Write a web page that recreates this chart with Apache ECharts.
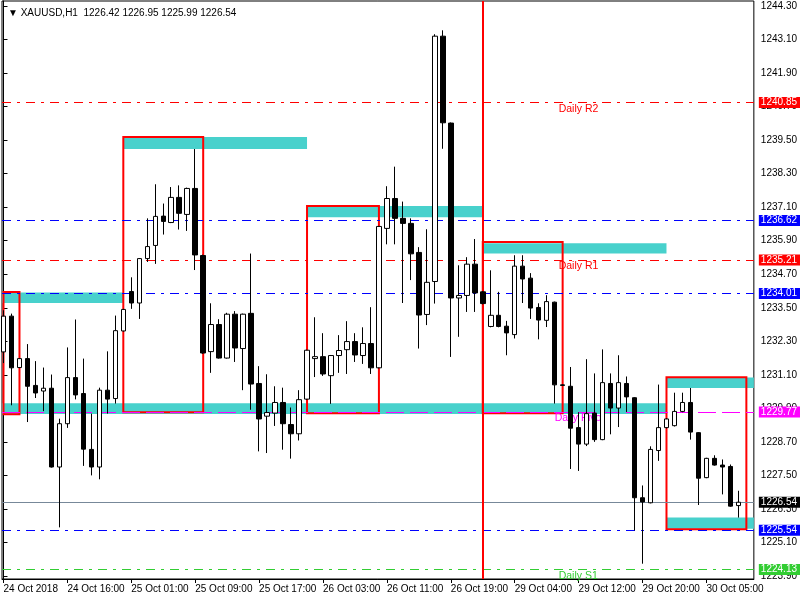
<!DOCTYPE html>
<html>
<head>
<meta charset="utf-8">
<title>XAUUSD,H1</title>
<script src="https://cdn.jsdelivr.net/npm/echarts@6/dist/echarts.min.js"></script>
<style>
  html, body { margin: 0; padding: 0; background: #fff; }
  #chart { width: 800px; height: 600px; }
</style>
</head>
<body>
<div id="chart"></div>
<script>
// hourly bars, [open, high, low, close]
const candles = [
  [1231.92, 1233.41, 1231.52, 1233.20], [1233.20, 1233.29, 1230.01, 1231.35], [1231.36, 1231.70, 1231.34, 1231.68],
  [1231.68, 1232.20, 1229.41, 1230.69], [1230.72, 1231.59, 1230.27, 1230.45], [1230.52, 1231.36, 1229.80, 1230.62],
  [1230.62, 1231.11, 1227.78, 1227.80], [1227.80, 1229.53, 1225.64, 1229.35], [1229.35, 1232.08, 1229.20, 1231.00],
  [1231.00, 1233.08, 1230.22, 1230.38], [1230.43, 1231.68, 1227.84, 1228.44], [1228.43, 1229.71, 1227.50, 1227.80],
  [1227.80, 1230.64, 1227.36, 1230.55], [1230.55, 1231.94, 1229.71, 1230.23], [1230.25, 1233.22, 1230.07, 1232.68],
  [1232.67, 1233.46, 1232.65, 1233.44], [1234.08, 1234.59, 1233.46, 1233.67], [1233.67, 1235.28, 1233.10, 1235.26],
  [1235.26, 1236.70, 1235.14, 1235.69], [1235.73, 1237.92, 1235.07, 1236.77], [1236.78, 1237.23, 1236.12, 1236.59],
  [1236.55, 1237.82, 1236.53, 1237.45], [1237.45, 1237.88, 1236.30, 1236.88], [1236.84, 1237.80, 1236.25, 1237.77],
  [1237.77, 1239.18, 1234.85, 1235.39], [1235.37, 1235.40, 1231.85, 1231.88], [1231.93, 1233.66, 1231.17, 1232.90],
  [1232.90, 1233.09, 1231.68, 1231.70], [1231.70, 1233.32, 1231.68, 1233.27], [1233.27, 1233.38, 1231.56, 1232.06],
  [1232.04, 1233.29, 1230.55, 1233.27], [1233.30, 1235.44, 1229.85, 1230.77], [1230.79, 1231.41, 1228.36, 1229.52],
  [1229.62, 1231.12, 1228.30, 1229.75], [1229.73, 1230.69, 1229.27, 1230.11], [1230.11, 1230.64, 1228.42, 1229.35],
  [1229.32, 1229.93, 1228.10, 1228.99], [1228.99, 1230.55, 1228.75, 1230.21], [1230.23, 1232.00, 1230.20, 1231.98],
  [1231.68, 1233.16, 1231.02, 1231.75], [1231.75, 1232.59, 1231.06, 1231.13], [1231.07, 1231.81, 1230.06, 1231.79],
  [1231.79, 1232.52, 1231.17, 1231.97], [1232.00, 1233.02, 1231.13, 1232.29], [1232.29, 1232.59, 1231.56, 1231.81],
  [1231.79, 1232.80, 1231.49, 1232.22], [1232.22, 1233.52, 1231.13, 1231.35], [1231.35, 1236.43, 1231.33, 1236.41],
  [1236.34, 1237.85, 1235.77, 1237.41], [1237.41, 1238.55, 1235.77, 1236.70], [1236.70, 1237.30, 1233.67, 1236.52],
  [1236.52, 1236.70, 1234.49, 1235.43], [1235.48, 1235.67, 1232.04, 1233.24], [1233.26, 1236.31, 1232.88, 1234.41],
  [1234.44, 1243.29, 1233.65, 1243.22], [1243.22, 1243.43, 1239.19, 1240.12], [1240.11, 1240.13, 1231.74, 1233.85],
  [1233.85, 1235.02, 1232.46, 1233.94], [1233.94, 1235.31, 1233.35, 1235.06], [1235.06, 1235.96, 1233.35, 1234.03],
  [1234.07, 1234.10, 1233.62, 1233.65], [1232.83, 1234.84, 1232.80, 1233.23], [1233.23, 1234.07, 1232.80, 1232.83],
  [1232.84, 1233.03, 1231.80, 1232.60], [1232.54, 1235.38, 1232.40, 1234.99], [1234.99, 1235.38, 1233.67, 1234.53],
  [1234.56, 1234.74, 1233.10, 1233.49], [1233.51, 1233.66, 1232.37, 1233.06], [1233.05, 1233.95, 1232.81, 1233.72],
  [1233.70, 1233.72, 1230.07, 1230.74], [1230.74, 1230.76, 1230.70, 1230.72], [1230.69, 1231.38, 1227.73, 1229.19],
  [1229.21, 1229.76, 1227.66, 1228.62], [1228.62, 1231.66, 1228.55, 1229.71], [1229.73, 1231.15, 1228.70, 1228.78],
  [1228.78, 1232.01, 1228.76, 1230.82], [1230.79, 1231.15, 1228.97, 1229.91], [1229.91, 1231.80, 1229.23, 1230.82],
  [1230.79, 1231.04, 1229.77, 1230.31], [1230.28, 1230.30, 1225.53, 1226.70], [1226.70, 1227.14, 1224.34, 1226.55],
  [1226.52, 1228.54, 1226.50, 1228.43], [1228.39, 1230.75, 1228.02, 1229.21], [1229.21, 1229.55, 1229.18, 1229.52],
  [1229.28, 1230.46, 1229.25, 1229.79], [1229.79, 1230.46, 1229.76, 1230.11], [1230.11, 1230.63, 1228.78, 1229.05],
  [1229.03, 1229.05, 1226.44, 1227.40], [1227.42, 1228.13, 1227.40, 1228.11], [1228.11, 1228.22, 1227.85, 1227.87],
  [1227.87, 1228.07, 1226.82, 1227.80], [1227.82, 1227.89, 1226.38, 1226.40], [1226.42, 1226.95, 1225.99, 1226.54]
];

// time scale labels (bar index -> text)
const timeTickBars = [0, 8, 16, 24, 32, 40, 48, 56, 64, 72, 80, 88];
const timeTickText = ['24 Oct 2018', '24 Oct 16:00', '25 Oct 01:00', '25 Oct 09:00', '25 Oct 17:00', '26 Oct 03:00',
  '26 Oct 11:00', '26 Oct 19:00', '29 Oct 04:00', '29 Oct 12:00', '29 Oct 20:00', '30 Oct 05:00'];

// price scale labels
const priceTicks = [1223.90, 1225.10, 1226.30, 1227.50, 1228.70, 1229.90, 1231.10, 1232.30, 1233.50,
  1234.70, 1235.90, 1237.10, 1238.30, 1239.50, 1240.70, 1241.90, 1243.10, 1244.30];

// horizontal levels
const levelPrices = [1240.85, 1236.62, 1235.21, 1234.01, 1229.77, 1226.54, 1225.54, 1224.13];

// level captions: bar where text starts, price, text
const noteBars = [69.5, 69.5, 69, 69.5];
const notePrices = [1240.85, 1235.21, 1229.77, 1224.13];
const noteTexts = ['Daily R2', 'Daily R1', 'Daily Pivot', 'Daily S1'];

// visible range of the time scale (in bars)
const X_MIN = -0.1875, X_MAX = 93.9375;

// filled zones: [fromBar, toBar, top, bottom]
const zones = [
  [X_MIN, 15, 1234.05, 1233.67],
  [X_MIN, 83, 1230.08, 1229.70],
  [15, 38, 1239.61, 1239.18],
  [38, 60, 1237.14, 1236.74],
  [60, 83, 1235.81, 1235.44],
  [83, X_MAX, 1231.00, 1230.63],
  [83, X_MAX, 1225.99, 1225.59]
];

// outlined boxes: [fromBar, toBar, top, bottom]
const boxes = [
  [0, 2, 1234.06, 1229.69],
  [15, 25, 1239.61, 1229.76],
  [38, 47, 1237.14, 1229.72],
  [60, 70, 1235.85, 1229.72],
  [83, 93, 1231.01, 1225.57]
];

const separatorBar = 60;

// styles
const DASHDOT = [9, 6, 3, 6];
const levelStyle = [
  { color: '#ff0000', type: DASHDOT },
  { color: '#0000ff', type: DASHDOT },
  { color: '#ff0000', type: DASHDOT },
  { color: '#0000ff', type: DASHDOT },
  { color: '#ff00ff', type: [18, 6] },
  { color: '#778899', type: 'solid', box: '#000000' },
  { color: '#0000ff', type: DASHDOT },
  { color: '#32cd32', type: DASHDOT }
];
const noteColors = ['#ff0000', '#ff0000', '#ff00ff', '#32cd32'];
const FONT = "'Liberation Sans', Arial, sans-serif";

const last = candles[candles.length - 1];

let myChart = echarts.init(document.getElementById('chart'));
myChart.setOption({
  animation: false,
  backgroundColor: '#fff',
  title: {
    text: '\u25BC XAUUSD,H1  ' + last.map(v => v.toFixed(2)).join(' '),
    left: 3,
    top: 3,
    textStyle: { fontSize: 10, fontWeight: 'normal', color: '#000', fontFamily: FONT }
  },
  grid: {
    left: 2, right: 45, top: 1, bottom: 21,
    show: true, borderColor: '#000', borderWidth: 1, backgroundColor: '#fff'
  },
  xAxis: {
    type: 'value',
    min: X_MIN,
    max: X_MAX,
    splitLine: { show: false },
    axisLine: { show: true, lineStyle: { color: '#000' } },
    axisTick: { show: true, length: 4, customValues: timeTickBars, lineStyle: { color: '#000' } },
    axisLabel: {
      customValues: timeTickBars,
      formatter: v => timeTickText[timeTickBars.indexOf(Math.round(v))] || '',
      align: 'left',
      margin: 5,
      color: '#000',
      fontSize: 10,
      fontFamily: FONT
    }
  },
  yAxis: {
    type: 'value',
    position: 'right',
    min: 1223.792,
    max: 1244.479,
    scale: true,
    splitLine: { show: false },
    axisLine: { show: true, lineStyle: { color: '#000' } },
    axisTick: { show: true, length: 4, customValues: priceTicks, lineStyle: { color: '#000' } },
    axisLabel: {
      customValues: priceTicks,
      formatter: v => v.toFixed(2),
      margin: 7,
      color: '#000',
      fontSize: 10,
      fontFamily: FONT
    }
  },
  series: [
    {
      // cyan zones
      name: 'zones',
      type: 'line',
      z: 1,
      data: [],
      markArea: {
        silent: true,
        itemStyle: { color: '#48d1cc', borderWidth: 0, opacity: 1 },
        data: zones.map(b => [{ xAxis: b[0], yAxis: b[2] }, { xAxis: b[1], yAxis: b[3] }])
      }
    },
    {
      // red frames
      name: 'boxes',
      type: 'line',
      z: 2,
      data: [],
      markArea: {
        silent: true,
        itemStyle: { color: 'rgba(0,0,0,0)', borderColor: '#ff0000', borderWidth: 2, opacity: 1 },
        data: boxes.map(b => [{ xAxis: b[0], yAxis: b[2] }, { xAxis: b[1], yAxis: b[3] }])
      }
    },
    {
      // level lines with price boxes on the scale
      name: 'levels',
      type: 'line',
      z: 3,
      data: [],
      markLine: {
        silent: true,
        symbol: ['none', 'none'],
        data: levelPrices.map((p, i) => ({
          yAxis: p,
          lineStyle: { color: levelStyle[i].color, type: levelStyle[i].type, width: 1, opacity: 1 },
          label: {
            show: true,
            position: 'end',
            distance: 5,
            formatter: p.toFixed(2),
            color: '#fff',
            backgroundColor: levelStyle[i].box || levelStyle[i].color,
            padding: [1, 6, 0, 2],
            fontSize: 10,
            fontFamily: FONT
          }
        })).concat([{
          xAxis: separatorBar,
          lineStyle: { color: '#ff0000', type: 'solid', width: 2, opacity: 1 },
          label: { show: false }
        }])
      }
    },
    {
      // level captions
      name: 'notes',
      type: 'scatter',
      z: 3,
      symbolSize: 0,
      silent: true,
      itemStyle: { opacity: 1 },
      data: noteBars.map((b, i) => ({
        value: [b, notePrices[i]],
        label: {
          show: true,
          position: [0, 1],
          formatter: noteTexts[i],
          color: noteColors[i],
          fontSize: 10.5,
          fontFamily: FONT
        }
      }))
    },
    {
      name: 'XAUUSD',
      type: 'candlestick',
      z: 5,
      barWidth: 5,
      data: candles.map((c, i) => [i, c[0], c[3], c[2], c[1]]),
      itemStyle: {
        color: '#fff',
        color0: '#000',
        borderColor: '#000',
        borderColor0: '#000',
        borderColorDoji: '#000',
        borderWidth: 1
      }
    }
  ]
});
</script>
</body>
</html>
